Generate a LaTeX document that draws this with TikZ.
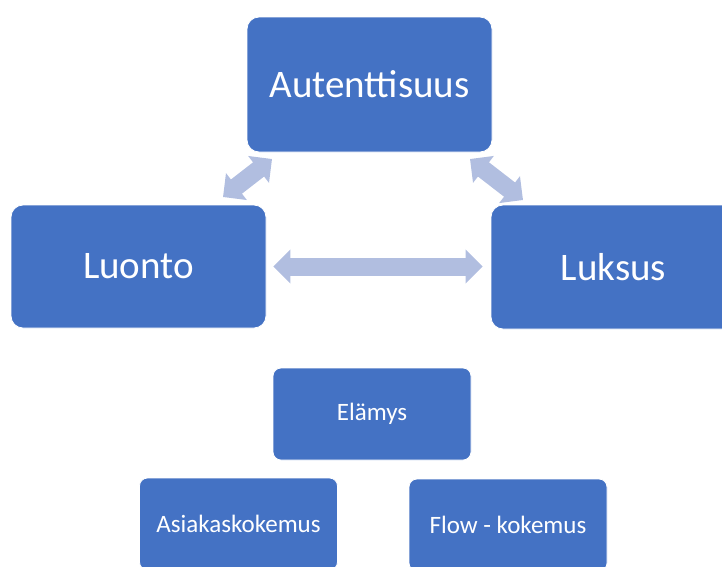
\documentclass[tikz,border=0pt]{standalone}
\usepackage{fontspec}
\setmainfont{Carlito}
\usetikzlibrary{arrows.meta}
\definecolor{boxblue}{HTML}{4472C4}
\definecolor{arrowblue}{HTML}{B1BEE0}
\tikzset{
  bigbox/.style={fill=boxblue,draw=white,line width=0.8pt,rounded corners=12pt,
    text=white,font=\fontsize{39}{45}\selectfont,inner sep=0pt},
  smallbox/.style={fill=boxblue,draw=white,line width=0.8pt,rounded corners=8pt,
    text=white,font=\fontsize{25}{29}\selectfont,inner sep=0pt,
    minimum width=198pt,minimum height=92pt},
  fatarrow/.style={draw=arrowblue,line width=18pt,
    {Triangle[length=17pt,width=33pt]}-{Triangle[length=17pt,width=33pt]}}
}
\begin{document}
\begin{tikzpicture}[x=1pt,y=-1pt]
\useasboundingbox (0,0) rectangle (722,566);

\node[bigbox,minimum width=245pt,minimum height=135pt] (aut) at (369.5,84.5) {Autenttisuus};
\node[bigbox,minimum width=255pt,minimum height=123pt] (luonto) at (138.5,266.5) {Luonto};
\node[bigbox,minimum width=245pt,minimum height=124pt] (luksus) at (613.5,267) {Luksus};

\node[smallbox] (elamys) at (372,414) {Elämys};
\node[smallbox] (asiakas) at (238.5,524) {Asiakaskokemus};
\node[smallbox] (flow) at (508,525) {Flow - kokemus};

\coordinate (ul1) at (223,197);
\coordinate (ul2) at (272,159);
\coordinate (ur1) at (470,159);
\coordinate (ur2) at (523,200);

\draw[fatarrow,shorten <=7pt,shorten >=8pt] (luonto.east) -- (luksus.west |- luonto.east);
\draw[fatarrow] (ul1) -- (ul2);
\draw[fatarrow] (ur1) -- (ur2);
\end{tikzpicture}
\end{document}
